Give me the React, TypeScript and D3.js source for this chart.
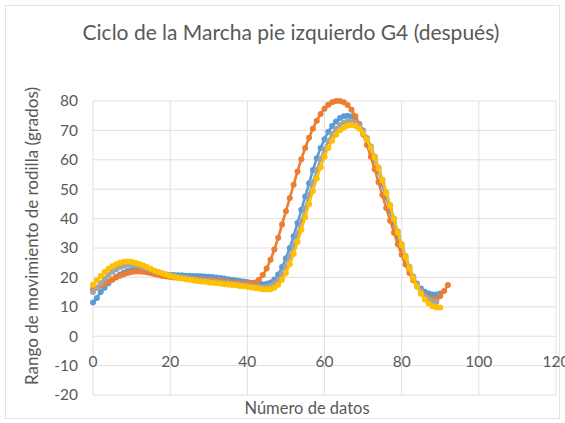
import React from "react";
import * as d3 from "d3";

const title = "Ciclo de la Marcha pie izquierdo G4 (después)";
const xAxisTitle = "Número de datos";
const yAxisTitle = "Rango de movimiento de rodilla (grados)";
const xTicks = [0, 20, 40, 60, 80, 100, 120];
const yTicks = [-20, -10, 0, 10, 20, 30, 40, 50, 60, 70, 80];

const seriesBlue = [
  11.5, 13, 15, 16.5, 18, 19.2, 20.2, 21, 21.7, 22.2, 22.5, 22.6, 22.5, 22.3, 22, 21.7, 21.4, 21.2, 21, 20.9,
  20.8, 20.8, 20.7, 20.7, 20.6, 20.6, 20.5, 20.5, 20.4, 20.3, 20.2, 20.1, 20, 19.8, 19.6, 19.4, 19.2, 19, 18.8, 18.6,
  18.4, 18.2, 18, 17.8, 17.7, 17.8, 18.3, 19.3, 21, 23.5, 26.5, 30, 34, 38.5, 43, 47.5, 52, 56.5, 60.5, 64,
  67, 69.5, 71.5, 73, 74.2, 74.8, 75, 74.7, 73.8, 72.2, 70, 67.2, 63.9, 60.2, 56.2, 51.8, 47.3, 42.8, 38.3, 34,
  29.9, 26.1, 22.8, 20, 17.8, 16.2, 15.1, 14.5, 14.2, 14.2, 14.5,
];
const seriesOrange = [
  16, 16.5, 17.2, 17.9, 18.6, 19.3, 20, 20.6, 21.1, 21.5, 21.8, 22, 22, 21.9, 21.7, 21.4, 21.1, 20.8, 20.5, 20.3,
  20.1, 20, 19.9, 19.8, 19.7, 19.6, 19.5, 19.4, 19.3, 19.2, 19.1, 19, 18.9, 18.8, 18.6, 18.5, 18.3, 18.2, 18, 17.9,
  17.8, 17.9, 18.3, 19.2, 20.8, 23, 26, 29.5, 33.5, 38, 42.5, 47, 51.5, 56, 60.2, 64, 67.5, 70.6, 73.3, 75.6,
  77.4, 78.7, 79.6, 80, 80, 79.6, 78.6, 77, 74.8, 72, 68.7, 65, 61, 56.8, 52.4, 48, 43.6, 39.3, 35.2, 31.3,
  27.7, 24.4, 21.5, 19, 16.9, 15.2, 13.9, 13, 12.5, 12.6, 13.7, 15.4, 17.4,
];
const seriesGray = [
  15, 16.5, 18, 19.5, 20.8, 21.9, 22.8, 23.5, 24, 24.3, 24.4, 24.3, 24, 23.6, 23.1, 22.6, 22.1, 21.7, 21.3, 21,
  20.7, 20.4, 20.2, 20, 19.8, 19.6, 19.4, 19.2, 19, 18.9, 18.7, 18.6, 18.4, 18.3, 18.1, 18, 17.8, 17.7, 17.5, 17.4,
  17.2, 17, 16.8, 16.7, 16.6, 16.7, 17.1, 17.9, 19.2, 21.2, 23.8, 27, 30.7, 34.8, 39.1, 43.5, 48, 52.4, 56.5, 60.3,
  63.6, 66.4, 68.7, 70.5, 71.8, 72.6, 73, 73, 72.5, 71.4, 69.7, 67.4, 64.5, 61.1, 57.3, 53.2, 48.9, 44.5, 40, 35.6,
  31.3, 27.3, 23.6, 20.3, 17.5, 15.3, 13.6, 12.4, 11.8, 11.6,
];
const seriesYellow = [
  17.5, 19, 20.5, 21.8, 22.9, 23.8, 24.5, 25, 25.3, 25.4, 25.3, 25, 24.6, 24.1, 23.5, 22.9, 22.3, 21.8, 21.3, 20.9,
  20.5, 20.2, 19.9, 19.6, 19.4, 19.2, 19, 18.8, 18.6, 18.5, 18.3, 18.2, 18, 17.9, 17.7, 17.6, 17.4, 17.3, 17.1, 17,
  16.8, 16.6, 16.4, 16.2, 16, 15.9, 16, 16.5, 17.5, 19.2, 21.5, 24.5, 28, 32, 36.2, 40.5, 45, 49.4, 53.6, 57.5,
  61, 64, 66.5, 68.5, 70, 71, 71.6, 71.8, 71.5, 70.6, 69, 66.8, 64, 60.7, 57, 53, 48.7, 44.3, 39.8, 35.3,
  31, 26.9, 23.1, 19.7, 16.8, 14.4, 12.5, 11.1, 10.2, 9.8, 9.8,
];

const seriesList = [
  { name: "Blue", values: seriesBlue, color: "#5B9BD5" },
  { name: "Orange", values: seriesOrange, color: "#ED7D31" },
  { name: "Gray", values: seriesGray, color: "#A5A5A5" },
  { name: "Yellow", values: seriesYellow, color: "#FFC000" },
];

const W = 565;
const H = 423;
const FONT = "Lato, 'Open Sans', sans-serif";
const TXT = "#595959";

export default function App() {
  const x = d3.scaleLinear().domain([0, 120]).range([93, 556]);
  const y = d3.scaleLinear().domain([-20, 80]).range([395, 101]);
  const line = d3
    .line<number>()
    .x((_, i) => x(i))
    .y((d) => y(d))
    .curve(d3.curveCatmullRom.alpha(0.5));

  return (
    <svg
      width={W}
      height={H}
      style={{ position: "absolute", left: 0, top: 0, background: "#fff" }}
      fontFamily={FONT}
    >
      <rect x={0} y={0} width={W} height={H} fill="#fff" />
      <rect x={5.5} y={5.5} width={W - 11} height={H - 10} fill="none" stroke="#e3e3e3" />
      <text x={291} y={40} textAnchor="middle" fontSize={21} fill={TXT}>
        {title}
      </text>
      {yTicks.map((t) => (
        <line key={"gy" + t} x1={x(0)} x2={x(120)} y1={y(t)} y2={y(t)} stroke="#e0e0e0" strokeWidth={1} />
      ))}
      {xTicks.map((t) => (
        <line key={"gx" + t} x1={x(t)} x2={x(t)} y1={y(-20)} y2={y(80)} stroke="#e0e0e0" strokeWidth={1} />
      ))}
      {yTicks.map((t) => (
        <text key={"ty" + t} x={78} y={y(t)} dy="0.35em" textAnchor="end" fontSize={15.5} fill={TXT}>
          {t}
        </text>
      ))}
      {xTicks.map((t) => (
        <text key={"tx" + t} x={x(t)} y={y(0) + 25} dy="0.35em" textAnchor="middle" fontSize={15.5} fill={TXT}>
          {t}
        </text>
      ))}
      <text x={307} y={408} dy="0.35em" textAnchor="middle" fontSize={16.5} fill={TXT}>
        {xAxisTitle}
      </text>
      <text
        transform={`translate(32,${236}) rotate(-90)`}
        dy="0.35em"
        textAnchor="middle"
        fontSize={17}
        fill={TXT}
      >
        {yAxisTitle}
      </text>
      {seriesList.map((s) => (
        <g key={s.name}>
          <path d={line(s.values) || ""} fill="none" stroke={s.color} strokeWidth={2.6} />
          {s.values.map((v, i) => (
            <circle key={i} cx={x(i)} cy={y(v)} r={3} fill={s.color} />
          ))}
        </g>
      ))}
    </svg>
  );
}
